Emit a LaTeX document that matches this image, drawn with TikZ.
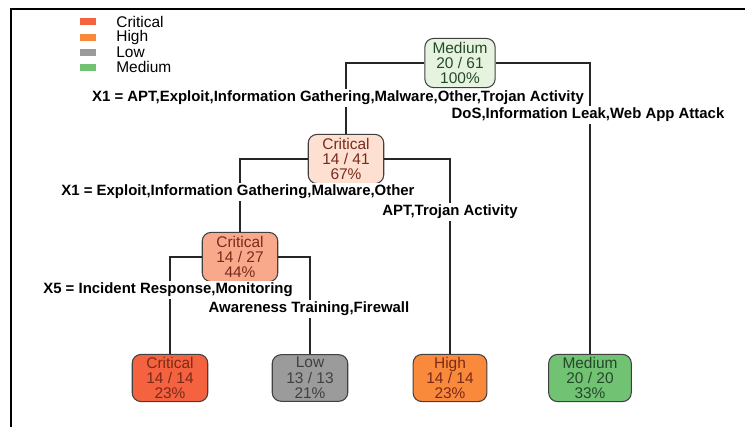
\documentclass[tikz,border=0pt]{standalone}
\usepackage{fontspec}
\setmainfont{Liberation Sans}
\usetikzlibrary{positioning}

\definecolor{rootfill}{HTML}{E6F4DF}
\definecolor{critApale}{HTML}{FDE0D2}
\definecolor{critBsalmon}{HTML}{F8A98C}
\definecolor{critkey}{HTML}{F4623F}
\definecolor{highkey}{HTML}{F98A3C}
\definecolor{lowkey}{HTML}{9B9B9B}
\definecolor{medkey}{HTML}{72C274}
\definecolor{crittext}{HTML}{7A2A1A}
\definecolor{medtext}{HTML}{24482A}

\begin{document}
\begin{tikzpicture}[x=0.02cm,y=-0.02cm,
	box/.style={draw=black!75,line width=0.6pt,rounded corners=5pt,align=center,
		font=\fontsize{8.8}{8.7}\selectfont,inner xsep=3pt,inner ysep=1.5pt,
		minimum width=43pt,minimum height=28pt},
	cut/.style={fill=white,font=\fontsize{8.5}{9}\selectfont\bfseries,inner sep=1pt},
	legtext/.style={anchor=west,font=\fontsize{8.8}{9}\selectfont,inner sep=0pt},
	wire/.style={draw=black!85,line width=0.6pt}]
		\useasboundingbox (0,0) rectangle (745,427);
		\draw[line width=1.2pt] (11,427) -- (11,9) -- (745,9);
		% legend
		\fill[critkey] (80,18) rectangle (96,25);
		\fill[highkey] (80,34) rectangle (96,41);
		\fill[lowkey] (80,49) rectangle (96,56);
		\fill[medkey] (80,64) rectangle (96,71);
		\node[legtext] (legcrit) at (116,22) {Critical};
		\node[legtext] (leghigh) at (116,37) {High};
		\node[legtext] (leglow) at (116,52) {Low};
		\node[legtext] (legmed) at (116,67) {Medium};
		% tree
		\node[box,fill=rootfill,text=medtext,minimum width=40pt] (root) at (460,63) {Medium\\20 / 61\\100\%};
		\node[box,fill=critApale,text=crittext] (critA) at (346,159) {Critical\\14 / 41\\67\%};
		\node[box,fill=critBsalmon,text=crittext] (critB) at (240,257) {Critical\\14 / 27\\44\%};
		\node[box,fill=critkey,text=crittext,minimum height=26pt] (leafcrit) at (170,378) {Critical\\14 / 14\\23\%};
		\node[box,fill=lowkey,text=black!75,minimum height=26pt] (leaflow) at (310,378) {Low\\13 / 13\\21\%};
		\node[box,fill=highkey,text=crittext,minimum width=42pt,minimum height=26pt] (leafhigh) at (450,378) {High\\14 / 14\\23\%};
		\node[box,fill=medkey,text=medtext,minimum width=47pt,minimum height=26pt] (leafmed) at (590,378) {Medium\\20 / 20\\33\%};
		\draw[wire] (root.west) -| (critA.north);
		\draw[wire] (root.east) -| (leafmed.north);
		\draw[wire] (critA.west) -| (critB.north);
		\draw[wire] (critA.east) -| (leafhigh.north);
		\draw[wire] (critB.west) -| (leafcrit.north);
		\draw[wire] (critB.east) -| (leaflow.north);
		% split labels
		\node[cut] (cutA) at (338,98) {X1 = APT,Exploit,Information Gathering,Malware,Other,Trojan Activity};
		\node[cut] (restA) at (588,115) {DoS,Information Leak,Web App Attack};
		\node[cut] (cutB) at (238,192) {X1 = Exploit,Information Gathering,Malware,Other};
		\node[cut] (restB) at (450,212) {APT,Trojan Activity};
		\node[cut] (cutC) at (168,290) {X5 = Incident Response,Monitoring};
		\node[cut] (restC) at (309,309) {Awareness Training,Firewall};
	\end{tikzpicture}
\end{document}
